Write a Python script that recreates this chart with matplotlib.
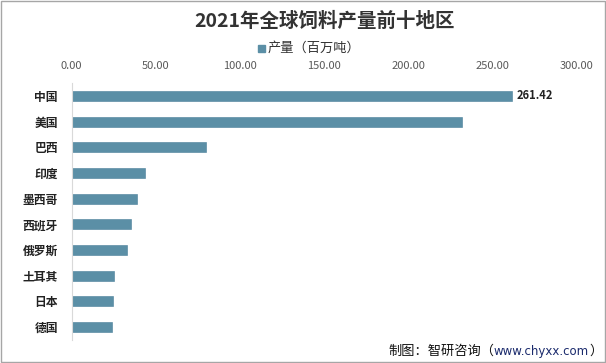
import matplotlib
matplotlib.use('Agg')
import matplotlib.pyplot as plt
from matplotlib.patches import Rectangle

plt.rcParams['font.family'] = ['Noto Sans CJK SC', 'DejaVu Sans']

# 数据（百万吨）
regions = ['中国', '美国', '巴西', '印度', '墨西哥', '西班牙', '俄罗斯', '土耳其', '日本', '德国']
output = [261.42, 231.7, 79.8, 43.6, 38.8, 35.2, 32.9, 25.1, 24.5, 24.0]
x_ticks = [0, 50, 100, 150, 200, 250, 300]

bar_color = '#5b8fa6'

fig = plt.figure(figsize=(6.06, 3.63), dpi=100)
ax = fig.add_axes([0.1183, 0.0634, 0.8334, 0.7079])

y = list(range(len(regions)))
ax.barh(y, output, height=0.39, color=bar_color, edgecolor='#4a7f9a', linewidth=0.4)
ax.set_ylim(len(regions) - 0.5, -0.5)
ax.set_xlim(0, 300)

ax.xaxis.tick_top()
ax.set_xticks(x_ticks)
ax.set_xticklabels(['%.2f' % v for v in x_ticks], fontsize=8, color='#595959')
ax.tick_params(axis='x', length=0, pad=9)
ax.set_yticks(y)
ax.set_yticklabels(regions, fontsize=8.5, fontweight='bold', color='#222222')
ax.tick_params(axis='y', length=0, pad=10)

for s in ['top', 'right', 'bottom']:
    ax.spines[s].set_visible(False)
ax.spines['left'].set_color('#d9d9d9')

# 只标注第一名
ax.text(output[0] + 3, 0, '%.2f' % output[0], va='center', ha='left',
        fontsize=8, fontweight='bold', color='#222222')

fig.text(0.535, 0.94, '2021年全球饲料产量前十地区', ha='center', va='center',
         fontsize=14, fontweight='bold', color='#333333')

# 图例
fig.patches.append(Rectangle((258 / 606, 1 - 52 / 363), 7 / 606, 7 / 363,
                             transform=fig.transFigure, color=bar_color))
fig.text(268 / 606, 1 - 48 / 363, '产量（百万吨）', ha='left', va='center',
         fontsize=9.5, color='#333333')

# 来源
src = fig.text(388 / 606, 1 - 351 / 363, '制图：智研咨询（', ha='left', va='center',
               fontsize=9.5, color='#111111')
url = ax.annotate('www.chyxx.com', xy=(1, 0.5), xycoords=src, xytext=(0, 0),
                  textcoords='offset points', ha='left', va='center',
                  fontsize=8.5, color='#1a2a6c', family=['DejaVu Sans'],
                  annotation_clip=False)
ax.annotate('）', xy=(1, 0.5), xycoords=url, xytext=(0, 0),
            textcoords='offset points', ha='left', va='center',
            fontsize=9.5, color='#111111', annotation_clip=False)

fig.patches.append(Rectangle((0.001, 0.002), 0.997, 0.995, transform=fig.transFigure,
                             fill=False, edgecolor='#a6a6a6', linewidth=1))

fig.savefig('out.png', dpi=100)
